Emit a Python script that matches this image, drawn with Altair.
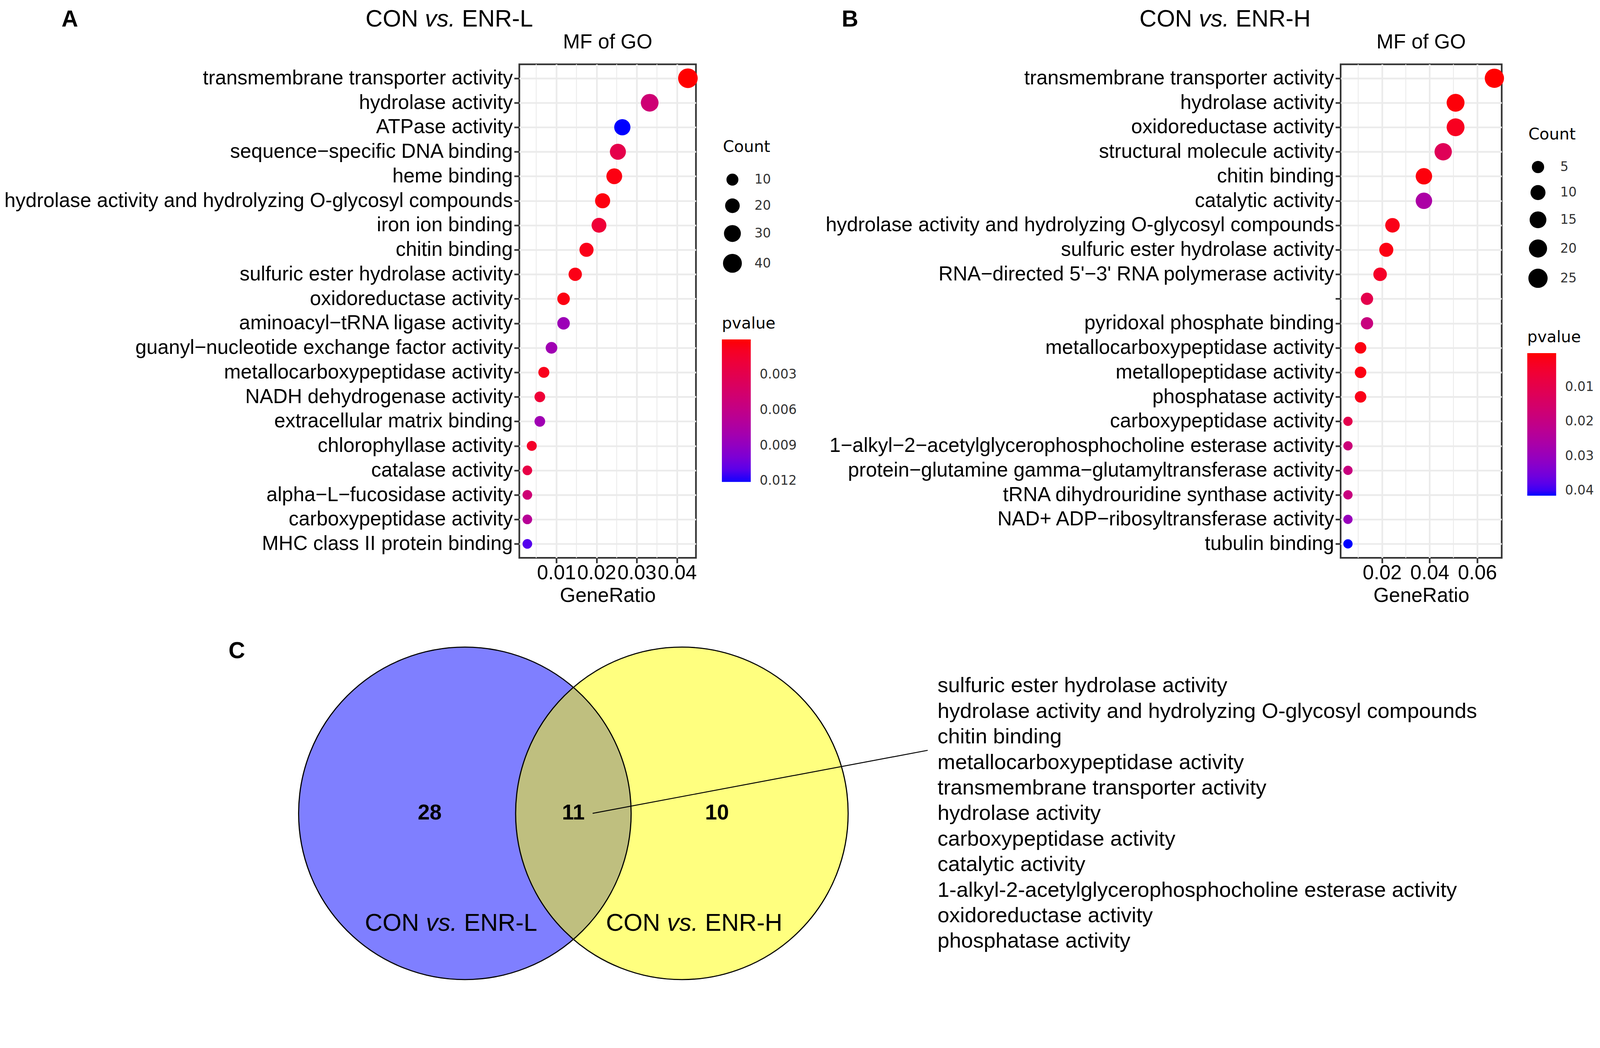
import altair as alt
import pandas as pd

# ---------------- data: panel A (CON vs. ENR-L) ----------------
a_terms = [
    "transmembrane transporter activity",
    "hydrolase activity",
    "ATPase activity",
    "sequence\u2212specific DNA binding",
    "heme binding",
    "hydrolase activity and hydrolyzing O-glycosyl compounds",
    "iron ion binding",
    "chitin binding",
    "sulfuric ester hydrolase activity",
    "oxidoreductase activity",
    "aminoacyl\u2212tRNA ligase activity",
    "guanyl\u2212nucleotide exchange factor activity",
    "metallocarboxypeptidase activity",
    "NADH dehydrogenase activity",
    "extracellular matrix binding",
    "chlorophyllase activity",
    "catalase activity",
    "alpha\u2212L\u2212fucosidase activity",
    "carboxypeptidase activity",
    "MHC class II protein binding",
]
a_ratio = [0.0427, 0.0332, 0.0264, 0.0253, 0.0244, 0.0215, 0.0206, 0.0175, 0.0147, 0.0118,
           0.0118, 0.0088, 0.0069, 0.0059, 0.0059, 0.0039, 0.0028, 0.0028, 0.0028, 0.0028]
a_count = [44, 34, 27, 26, 25, 22, 21, 18, 15, 12, 12, 9, 7, 6, 6, 4, 3, 3, 3, 3]
a_pvalue = [0.00002, 0.0050, 0.0121, 0.0028, 0.0004, 0.0003, 0.0018, 0.0006, 0.0005, 0.0004,
            0.0085, 0.0083, 0.0007, 0.0018, 0.0083, 0.0012, 0.0025, 0.0050, 0.0068, 0.0112]
a_xticks = [0.01, 0.02, 0.03, 0.04]
a_xminor = [0.005, 0.015, 0.025, 0.035]
a_size_ticks = [10, 20, 30, 40]
a_p_ticks = [0.003, 0.006, 0.009, 0.012]

# ---------------- data: panel B (CON vs. ENR-H) ----------------
b_terms = [
    "transmembrane transporter activity",
    "hydrolase activity",
    "oxidoreductase activity",
    "structural molecule activity",
    "chitin binding",
    "catalytic activity",
    "hydrolase activity and hydrolyzing O-glycosyl compounds",
    "sulfuric ester hydrolase activity",
    "RNA\u2212directed 5'\u22123' RNA polymerase activity",
    " ",
    "pyridoxal phosphate binding",
    "metallocarboxypeptidase activity",
    "metallopeptidase activity",
    "phosphatase activity",
    "carboxypeptidase activity",
    "1\u2212alkyl\u22122\u2212acetylglycerophosphocholine esterase activity",
    "protein\u2212glutamine gamma\u2212glutamyltransferase activity",
    "tRNA dihydrouridine synthase activity",
    "NAD+ ADP\u2212ribosyltransferase activity",
    "tubulin binding",
]
b_ratio = [0.0672, 0.0509, 0.0509, 0.0457, 0.0376, 0.0376, 0.0244, 0.0218, 0.0192, 0.0137,
           0.0137, 0.0110, 0.0110, 0.0110, 0.0057, 0.0057, 0.0057, 0.0057, 0.0057, 0.0057]
b_count = [25, 19, 19, 17, 14, 14, 9, 8, 7, 5, 5, 4, 4, 4, 2, 2, 2, 2, 2, 2]
b_pvalue = [0.0002, 0.0008, 0.0030, 0.0120, 0.0010, 0.0260, 0.0020, 0.0015, 0.0040, 0.0100,
            0.0190, 0.0015, 0.0015, 0.0020, 0.0100, 0.0180, 0.0190, 0.0190, 0.0300, 0.0415]
b_xticks = [0.02, 0.04, 0.06]
b_xminor = [0.01, 0.03, 0.05]
b_size_ticks = [5, 10, 15, 20, 25]
b_p_ticks = [0.01, 0.02, 0.03, 0.04]

# ---------------- data: panel C (Venn) ----------------
venn_sets = ["CON vs. ENR-L", "CON vs. ENR-H"]
venn_counts = [28, 11, 10]
shared_terms = [
    "sulfuric ester hydrolase activity",
    "hydrolase activity and hydrolyzing O-glycosyl compounds",
    "chitin binding",
    "metallocarboxypeptidase activity",
    "transmembrane transporter activity",
    "hydrolase activity",
    "carboxypeptidase activity",
    "catalytic activity",
    "1-alkyl-2-acetylglycerophosphocholine esterase activity",
    "oxidoreductase activity",
    "phosphatase activity",
]

FONT = "Liberation Sans"
LFONT = "DejaVu Sans"
PLOT_W_A, PLOT_W_B, PLOT_H = 477, 435, 1333
GRID = "#ebebeb"
DARK = "#333333"
LABEL_SIZE = 54.2


def note(text, x, y, size, weight="normal", style="normal", align="center"):
    return alt.Chart(alt.Data(values=[{}])).mark_text(
        text=text, font=FONT, fontSize=size, fontWeight=weight, fontStyle=style,
        align=align, baseline="middle", color="black",
    ).encode(x=alt.value(x), y=alt.value(y))


def dot_panel(terms, ratio, count, pvalue, xticks, xminor, size_ticks, size_scale,
              p_ticks, p_fmt, width, size_pos, p_pos, row_pad, texts):
    df = pd.DataFrame({"term": terms, "GeneRatio": ratio, "Count": count, "pvalue": pvalue})
    lo, hi = min(ratio), max(ratio)
    ex = 0.05 * (hi - lo)
    xs = alt.Scale(domain=[lo - ex, hi + ex], nice=False, zero=False)
    ys = alt.Scale(type="point", padding=0.57)
    cs = alt.Scale(domain=[max(pvalue), min(pvalue)], range=["blue", "red"],
                   interpolate="lab", nice=False, zero=False)
    xaxis = alt.Axis(values=xticks, format=".2f", labelFont=FONT, labelFontSize=LABEL_SIZE,
                     labelColor="black", titleFont=FONT, titleFontSize=LABEL_SIZE,
                     titleFontWeight="normal", titleColor="black", tickSize=14,
                     tickWidth=4.5, tickColor=DARK, domain=False, grid=True,
                     gridColor=GRID, gridWidth=4.6, labelPadding=0, titlePadding=7,
                     labelOverlap=False, labelFlush=False)

    minor = alt.Chart(pd.DataFrame({"m": xminor})).mark_rule(
        color=GRID, strokeWidth=2.3
    ).encode(x=alt.X("m:Q", scale=xs, title="GeneRatio", axis=xaxis))

    points = alt.Chart(df).mark_circle(opacity=1).encode(
        x=alt.X("GeneRatio:Q", scale=xs, title="GeneRatio", axis=xaxis),
        y=alt.Y("term:N", sort=terms, scale=ys, title=None,
                axis=alt.Axis(labelFont=FONT, labelFontSize=LABEL_SIZE, labelColor="black",
                              labelLimit=3000, tickSize=14, tickWidth=4.5, tickColor=DARK,
                              domain=False, grid=True, gridColor=GRID, gridWidth=4.6,
                              labelPadding=4)),
        size=alt.Size("Count:Q", scale=size_scale,
                      legend=alt.Legend(orient="none", legendX=size_pos[0], legendY=size_pos[1],
                                        title="Count", values=size_ticks, symbolType="circle",
                                        symbolFillColor="black", symbolStrokeWidth=0,
                                        symbolOpacity=1, titleFont=LFONT, titleFontSize=43,
                                        titleFontWeight="normal", titleColor="black",
                                        labelFont=LFONT, labelFontSize=35, labelColor=DARK,
                                        rowPadding=row_pad, labelOffset=34, titlePadding=48,
                                        padding=0, direction="vertical")),
        color=alt.Color("pvalue:Q", scale=cs,
                        legend=alt.Legend(orient="none", legendX=p_pos[0], legendY=p_pos[1],
                                          title="pvalue", values=p_ticks, format=p_fmt,
                                          gradientLength=385, gradientThickness=78,
                                          gradientStrokeWidth=0, direction="vertical",
                                          titleFont=LFONT, titleFontSize=43,
                                          titleFontWeight="normal", titleColor="black",
                                          labelFont=LFONT, labelFontSize=35, labelColor=DARK,
                                          labelOffset=24, titlePadding=20, padding=0,
                                          labelOverlap=False)),
    )
    return alt.layer(minor, points, *texts).properties(
        width=width, height=PLOT_H,
        view=alt.ViewBackground(stroke=DARK, strokeWidth=4.5),
    )


panel_a = dot_panel(
    a_terms, a_ratio, a_count, a_pvalue, a_xticks, a_xminor, a_size_ticks,
    alt.Scale(type="linear", domain=[min(a_count), max(a_count)], range=[676, 2809], zero=False),
    a_p_ticks, ".3f", PLOT_W_A, (550, 203), (547, 680), 32,
    [
        note("A", -1214, -121, 62, weight="bold"),
        note("CON", -273, -121, 64, align="right"),
        note("vs.", -214, -121, 64, style="italic"),
        note("ENR-L", -155, -121, 64, align="left"),
        note("MF of GO", PLOT_W_A / 2, -60, 55),
    ],
)

panel_b = dot_panel(
    b_terms, b_ratio, b_count, b_pvalue, b_xticks, b_xminor, b_size_ticks,
    alt.Scale(type="sqrt", domain=[min(b_count), max(b_count)], range=[625, 2704], zero=False),
    b_p_ticks, ".2f", PLOT_W_B, (507, 169), (504, 717), 30,
    [
        note("B", -1325, -121, 62, weight="bold"),
        note("CON", -401, -121, 64, align="right"),
        note("vs.", -342, -121, 64, style="italic"),
        note("ENR-H", -283.5, -121, 64, align="left"),
        note("MF of GO", PLOT_W_B / 2, -60, 55),
    ],
)

# ---------------- Venn panel ----------------
U = 449.0            # pixels per circle radius
C_W, C_H = 400, 970  # panel box kept narrower than panel A so the grid columns stay put
MID_X, MID_Y = 146, 500   # pixel location of the Venn midpoint inside the panel
LIST_TOP, LIST_BOTTOM = 156, 846
vx = alt.Scale(domain=[-MID_X / U, (C_W - MID_X) / U], nice=False, zero=False)
vy = alt.Scale(domain=[-(C_H - MID_Y) / U, MID_Y / U], nice=False, zero=False)
circle_size = (2 * U) ** 2

centers = pd.DataFrame({"set": venn_sets, "cx": [-0.6526, 0.6526], "cy": [0.0, 0.0]})
fill = alt.Chart(centers).mark_circle(size=circle_size, opacity=0.5).encode(
    x=alt.X("cx:Q", scale=vx, axis=None),
    y=alt.Y("cy:Q", scale=vy, axis=None),
    color=alt.Color("set:N", scale=alt.Scale(domain=venn_sets, range=["#0000ff", "#ffff00"]),
                    legend=None),
)
outline = alt.Chart(centers).mark_point(
    shape="circle", size=circle_size, filled=False, stroke="black", strokeWidth=3, opacity=1
).encode(x=alt.X("cx:Q", scale=vx, axis=None), y=alt.Y("cy:Q", scale=vy, axis=None))

count_df = pd.DataFrame({"n": venn_counts, "px": [-0.864, 0.0, 0.864], "py": [0.0, 0.0, 0.0]})
counts = alt.Chart(count_df).mark_text(
    font=FONT, fontSize=58, fontWeight="bold", color="black", baseline="middle"
).encode(x=alt.X("px:Q", scale=vx, axis=None), y=alt.Y("py:Q", scale=vy, axis=None),
         text="n:Q")

name_df = pd.DataFrame({"set": venn_sets, "a": ["CON", "CON"], "b": ["vs.", "vs."],
                        "c": ["ENR-L", "ENR-H"], "nx": [-0.793, 0.657], "ny": [-0.661, -0.661]})
name_layers = []
for field, align, dx, style in [("a", "right", -60.5, "normal"), ("b", "center", 0, "italic"),
                                ("c", "left", 60.5, "normal")]:
    name_layers.append(
        alt.Chart(name_df).mark_text(font=FONT, fontSize=66, fontStyle=style, align=align,
                                     dx=dx, baseline="middle", color="black").encode(
            x=alt.X("nx:Q", scale=vx, axis=None), y=alt.Y("ny:Q", scale=vy, axis=None),
            text=f"{field}:N")
    )

link = alt.Chart(pd.DataFrame({"x1": [0.116], "y1": [0.0], "x2": [2.131], "y2": [0.379]})).mark_rule(
    color="black", strokeWidth=2.5
).encode(x=alt.X("x1:Q", scale=vx, axis=None), y=alt.Y("y1:Q", scale=vy, axis=None),
         x2="x2:Q", y2="y2:Q")

venn_core = alt.layer(fill, outline, counts, *name_layers, link)

list_df = pd.DataFrame({"term": shared_terms, "lx": [2.19] * len(shared_terms)})
term_list = alt.Chart(list_df).mark_text(
    font=FONT, fontSize=57.5, align="left", baseline="middle", color="black"
).encode(
    x=alt.X("lx:Q", scale=vx, axis=None),
    y=alt.Y("term:N", sort=shared_terms, axis=None,
            scale=alt.Scale(type="point", padding=0, range=[LIST_TOP, LIST_BOTTOM])),
    text="term:N",
)

letter_c = note("C", -763, 62, 62, weight="bold")

panel_c = alt.layer(venn_core, term_list, letter_c).resolve_scale(y="independent").properties(
    width=C_W, height=C_H
)

chart = alt.concat(
    panel_a, panel_b, panel_c, columns=2, spacing={"row": 190, "column": 1741},
    bounds="flush", align="none",
).resolve_scale(
    x="independent", y="independent", color="independent", size="independent"
).resolve_legend(color="independent", size="independent").properties(
    padding={"left": 0, "top": -62, "right": 5, "bottom": 5}
).configure(font=FONT, background="white").configure_view(strokeWidth=0)

chart.save("out.html", embed_options={"renderer": "svg", "actions": False})
